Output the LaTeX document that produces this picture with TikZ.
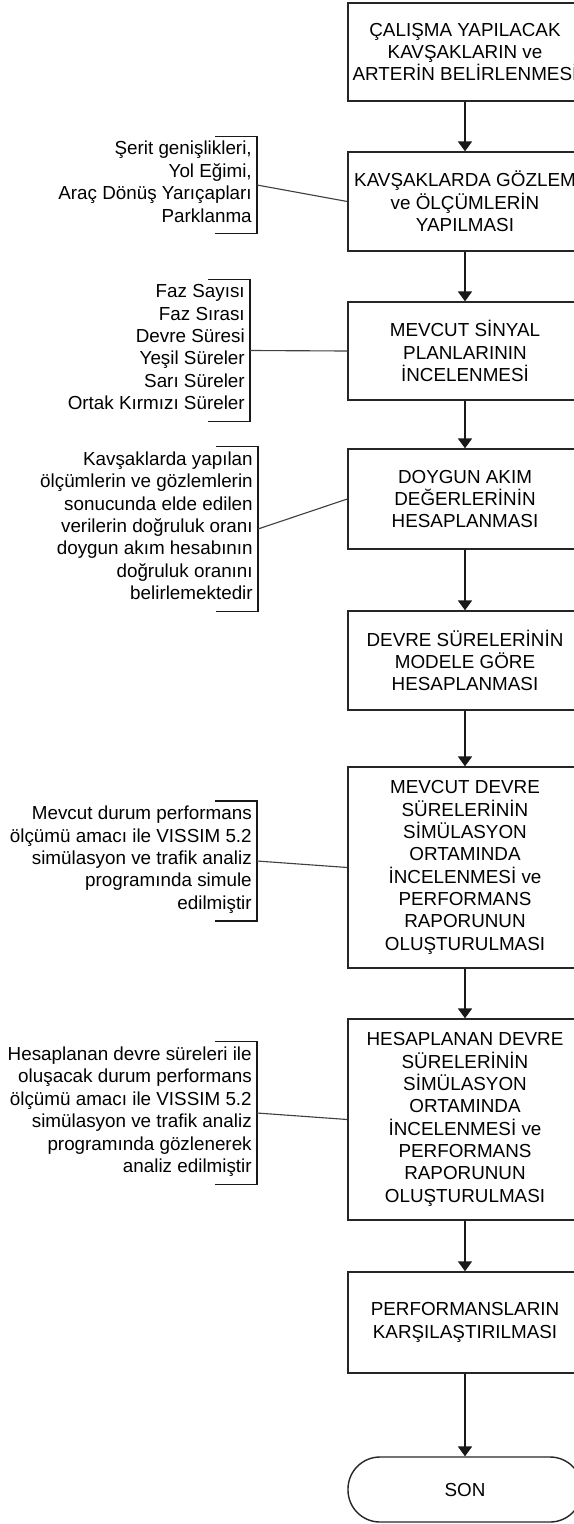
\documentclass[tikz,border=0pt]{standalone}
\usepackage{fontspec}
\setmainfont{Liberation Sans}
\usepackage{tikz}
\usetikzlibrary{arrows.meta,positioning}
\tikzset{
  stepbox/.style={
    draw=black!85,
    line width=1pt,
    align=center,
    minimum width=5.85cm,
    font=\fontsize{13.4}{15.9}\selectfont
  },
  endbox/.style={
    stepbox,
    rounded corners=0.8cm
  },
  note/.style={
    align=right,
    anchor=east,
    inner xsep=0.125cm,
    inner ysep=0.12cm,
    font=\fontsize{13.4}{15.9}\selectfont,
    execute at begin node=\strut,
    execute at end node=\strut
  },
  flow/.style={->,line width=0.9pt,black!90},
  link/.style={line width=0.8pt,black!75},
  brace/.style={line width=0.8pt,black!90}
}
\newcommand{\notebracket}[1]{%
  \draw[brace] ([xshift=-1.05cm]#1.north east) -- (#1.north east)
    -- (#1.south east) -- ([xshift=-1.05cm]#1.south east);}

\begin{document}
\begin{tikzpicture}[>={Triangle[length=7pt,width=10pt]}]
  \useasboundingbox (0,0) rectangle (14.35,-38.1);
  \clip (0,0) rectangle (14.35,-38.1);

  \node[stepbox,minimum height=2.45cm] (b1) at (11.625,-1.30)
    {ÇALIŞMA YAPILACAK\\KAVŞAKLARIN ve\\ARTERİN BELİRLENMESİ};
  \node[stepbox,minimum height=2.475cm] (b2) at (11.625,-5.0375)
    {KAVŞAKLARDA GÖZLEM\\ve ÖLÇÜMLERİN\\YAPILMASI};
  \node[stepbox,minimum height=2.45cm] (b3) at (11.625,-8.775)
    {MEVCUT SİNYAL\\PLANLARININ\\İNCELENMESİ};
  \node[stepbox,minimum height=2.5cm] (b4) at (11.625,-12.475)
    {DOYGUN AKIM\\DEĞERLERİNİN\\HESAPLANMASI};
  \node[stepbox,minimum height=2.475cm] (b5) at (11.625,-16.5125)
    {DEVRE SÜRELERİNİN\\MODELE GÖRE\\HESAPLANMASI};
  \node[stepbox,minimum height=5.025cm] (b6) at (11.625,-21.6875)
    {MEVCUT DEVRE\\SÜRELERİNİN\\SİMÜLASYON\\ORTAMINDA\\İNCELENMESİ ve\\PERFORMANS\\RAPORUNUN\\OLUŞTURULMASI};
  \node[stepbox,minimum height=5.025cm] (b7) at (11.625,-27.9875)
    {HESAPLANAN DEVRE\\SÜRELERİNİN\\SİMÜLASYON\\ORTAMINDA\\İNCELENMESİ ve\\PERFORMANS\\RAPORUNUN\\OLUŞTURULMASI};
  \node[stepbox,minimum height=2.525cm] (b8) at (11.625,-33.06)
    {PERFORMANSLARIN\\KARŞILAŞTIRILMASI};
  \node[endbox,minimum height=1.625cm] (son) at (11.625,-37.2375) {SON};

  \draw[flow] (b1) -- (b2);
  \draw[flow] (b2) -- (b3);
  \draw[flow] (b3) -- (b4);
  \draw[flow] (b4) -- (b5);
  \draw[flow] (b5) -- (b6);
  \draw[flow] (b6) -- (b7);
  \draw[flow] (b7) -- (b8);
  \draw[flow] (b8) -- (son);

  \node[note] (n1) at (6.425,-4.625)
    {Şerit genişlikleri,\\Yol Eğimi,\\Araç Dönüş Yarıçapları\\Parklanma};
  \node[note] (n2) at (6.25,-8.7625)
    {Faz Sayısı\\Faz Sırası\\Devre Süresi\\Yeşil Süreler\\Sarı Süreler\\Ortak Kırmızı Süreler};
  \node[note] (n3) at (6.45,-13.225)
    {Kavşaklarda yapılan\\ölçümlerin ve gözlemlerin\\sonucunda elde edilen\\verilerin doğruluk oranı\\doygun akım hesabının\\doğruluk oranını\\belirlemektedir};
  \node[note] (n4) at (6.425,-21.525)
    {Mevcut durum performans\\ölçümü amacı ile VISSIM 5.2\\simülasyon ve trafik analiz\\programında simule\\edilmiştir};
  \node[note] (n5) at (6.425,-27.825)
    {Hesaplanan devre süreleri ile\\oluşacak durum performans\\ölçümü amacı ile VISSIM 5.2\\simülasyon ve trafik analiz\\programında gözlenerek\\analiz edilmiştir};

  \notebracket{n1}
  \notebracket{n2}
  \notebracket{n3}
  \notebracket{n4}
  \notebracket{n5}

  \draw[link] (n1.east) -- (b2.west);
  \draw[link] (n2.east) -- (b3.west);
  \draw[link] (n3.east) -- (b4.west);
  \draw[link] (n4.east) -- (b6.west);
  \draw[link] (n5.east) -- (b7.west);
\end{tikzpicture}
\end{document}
